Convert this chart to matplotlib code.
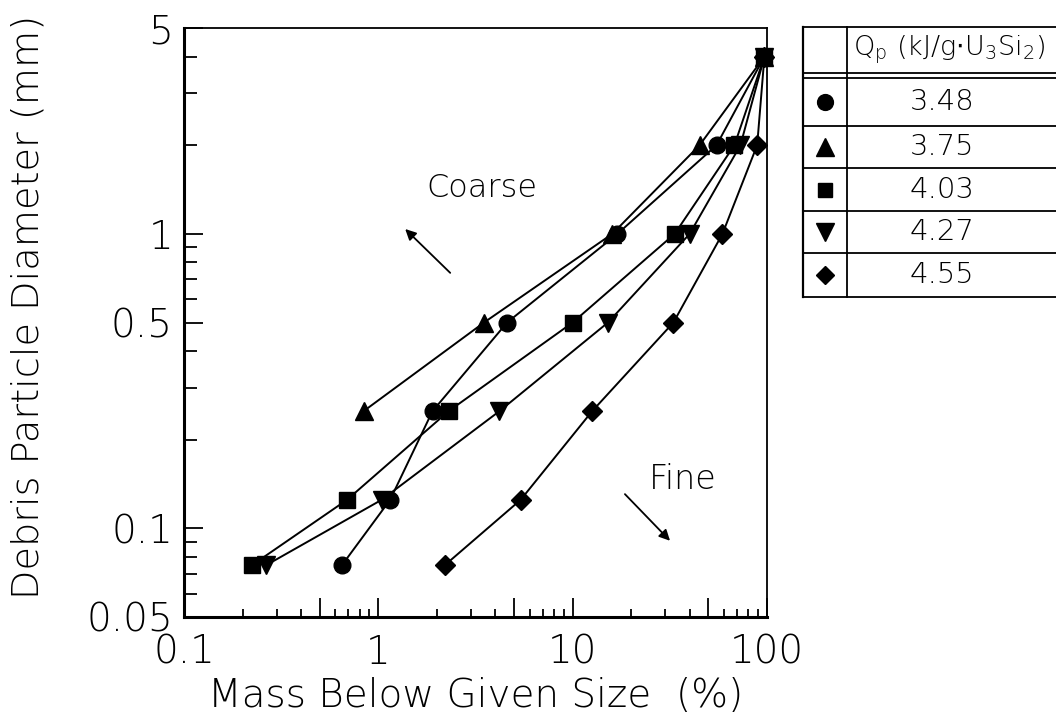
import numpy as np
import matplotlib
matplotlib.use("Agg")
import matplotlib.pyplot as plt
from matplotlib.ticker import FixedLocator, FixedFormatter, NullFormatter

plt.rcParams['font.family'] = ['DejaVu Sans']

# debris particle sieve sizes (mm) and cumulative mass below size (%)
sizes = [4, 2, 1, 0.5, 0.25, 0.125, 0.075]
mass_348 = [97, 55, 17, 4.6, 1.9, 1.15, 0.65]
mass_375 = [97, 45, 16, 3.5, 0.84]
mass_403 = [97, 68, 33.5, 10, 2.3, 0.69, 0.224]
mass_427 = [97, 73, 40, 15.2, 4.2, 1.04, 0.265]
mass_455 = [97, 89, 59, 33, 12.6, 5.4, 2.2]

qp_labels = ["3.48", "3.75", "4.03", "4.27", "4.55"]
series = [mass_348, mass_375, mass_403, mass_427, mass_455]
markers = ['o', '^', 's', 'v', 'D']
msizes = [12, 13, 11, 13, 10]

x_ticks = [0.1, 0.5, 1, 5, 10, 50, 100]
x_ticklabels = ["0.1", "", "1", "", "10", "", "100"]
y_ticks = [0.05, 0.1, 0.5, 1, 5]
y_ticklabels = ["0.05", "0.1", "0.5", "1", "5"]

fig = plt.figure(figsize=(10.56, 7.24), dpi=100)
ax = fig.add_axes([184/1056, 1-617/724, (767-184)/1056, (617-28)/724])

for m, mk, ms in zip(series, markers, msizes):
    ax.plot(m, sizes[:len(m)], color='black', lw=1.4, marker=mk,
            markersize=ms, markerfacecolor='black', markeredgecolor='black',
            clip_on=False, zorder=3)

ax.set_xscale('log')
ax.set_yscale('log')
ax.set_xlim(0.1, 100)
ax.set_ylim(0.05, 5)

# ticks: decades + halves long, other minors short
ax.xaxis.set_major_locator(FixedLocator(x_ticks))
ax.xaxis.set_major_formatter(FixedFormatter(x_ticklabels))
xminor = [k * d for d in [0.1, 1, 10] for k in [2, 3, 4, 6, 7, 8, 9]]
ax.xaxis.set_minor_locator(FixedLocator(xminor))
ax.xaxis.set_minor_formatter(NullFormatter())

ax.yaxis.set_major_locator(FixedLocator(y_ticks))
ax.yaxis.set_major_formatter(FixedFormatter(y_ticklabels))
yminor = [0.06, 0.07, 0.08, 0.09, 0.2, 0.3, 0.4, 0.6, 0.7, 0.8, 0.9, 2, 3, 4]
ax.yaxis.set_minor_locator(FixedLocator(yminor))
ax.yaxis.set_minor_formatter(NullFormatter())

ax.tick_params(axis='both', which='both', direction='in', top=False, right=False,
               width=1.3, labelsize=28)
ax.tick_params(axis='x', which='major', length=14, pad=12)
ax.tick_params(axis='x', which='minor', length=6)
ax.tick_params(axis='y', which='major', length=14, pad=8)
ax.tick_params(axis='y', which='minor', length=9)
for lab in ax.get_xticklabels() + ax.get_yticklabels():
    lab.set_fontweight('light')

for s in ['left', 'bottom']:
    ax.spines[s].set_linewidth(2.2)
for s in ['top', 'right']:
    ax.spines[s].set_linewidth(1.3)

ax.set_xlabel("Mass Below Given Size  (%)", fontsize=28, labelpad=4,
              fontweight='light')
ax.set_ylabel("Debris Particle Diameter (mm)", fontsize=27.5,
              fontweight='light')
ax.yaxis.set_label_coords(-0.238, 0.526)

ax.text(0.511, 0.728, "Coarse", transform=ax.transAxes, fontsize=23,
        ha='center', va='center', fontweight='light')
ax.annotate("", xy=(0.376, 0.662), xytext=(0.460, 0.581),
            xycoords='axes fraction', textcoords='axes fraction',
            arrowprops=dict(arrowstyle='-|>', color='black', lw=1.3,
                            mutation_scale=16))
ax.text(0.856, 0.234, "Fine", transform=ax.transAxes, fontsize=24,
        ha='center', va='center', fontweight='light')
ax.annotate("", xy=(0.837, 0.126), xytext=(0.753, 0.212),
            xycoords='axes fraction', textcoords='axes fraction',
            arrowprops=dict(arrowstyle='-|>', color='black', lw=1.3,
                            mutation_scale=16))

# legend table drawn in figure pixel space
tab = fig.add_axes([0, 0, 1, 1])
tab.set_xlim(0, 1056)
tab.set_ylim(724, 0)
tab.axis('off')
x0, xc, x1 = 803, 847, 1070
hlines = [27, 73, 78, 126, 168, 211, 253, 297]
for yy in hlines:
    tab.plot([x0, x1], [yy, yy], color='black', lw=1.3)
tab.plot([x0, x0], [27, 297], color='black', lw=1.6)
tab.plot([xc, xc], [27, 297], color='black', lw=1.3)
tab.text(853, 50, r"Q$_\mathregular{p}$ (kJ/g$\cdot$U$_\mathregular{3}$Si$_\mathregular{2}$)",
         fontsize=19.5, ha='left', va='center', fontweight='light')
row_y = [(hlines[i] + hlines[i + 1]) / 2 for i in range(2, 7)]
for yy, mk, ms, lab in zip(row_y, markers, msizes, qp_labels):
    tab.plot([825], [yy], marker=mk, markersize=ms * 0.95, color='black')
    tab.text(942, yy, lab, fontsize=21, ha='center', va='center',
             fontweight='light')

fig.savefig("out.png", dpi=100)
